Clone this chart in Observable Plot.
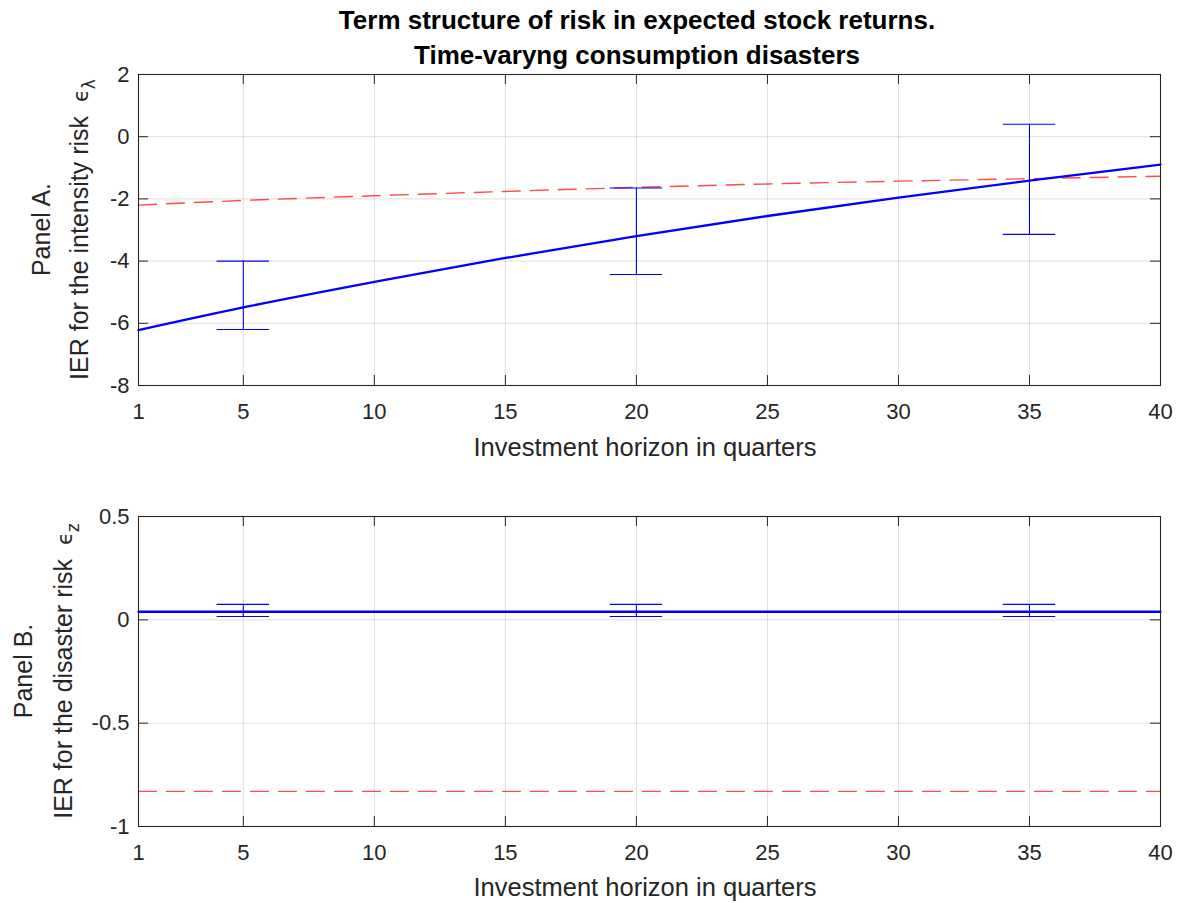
<!DOCTYPE html>
<html><head><meta charset="utf-8">
<script src="https://cdn.jsdelivr.net/npm/d3@7"></script>
<script src="https://cdn.jsdelivr.net/npm/@observablehq/plot@0.6"></script>
<style>
body{margin:0;background:#fff;}
#wrap{position:relative;width:1181px;height:903px;background:#fff;}
#wrap svg{position:absolute;left:0;}
</style>
</head><body><div id="wrap"></div>
<script>
// ---- data ----
const horizon = [1, 5, 10, 15, 20, 25, 30, 35, 40];
const intensityModel = [-6.22, -5.49, -4.67, -3.90, -3.20, -2.55, -1.96, -1.41, -0.90];
const intensityRef = [-2.20, -2.05, -1.90, -1.76, -1.63, -1.52, -1.43, -1.35, -1.27];
const barHorizon = [5, 20, 35];
const intensityLow = [-6.20, -4.43, -3.14];
const intensityHigh = [-4.00, -1.65, 0.40];
const disasterModel = [0.039, 0.039, 0.039, 0.039, 0.039, 0.039, 0.039, 0.039, 0.039];
const disasterRef = [-0.83, -0.83, -0.83, -0.83, -0.83, -0.83, -0.83, -0.83, -0.83];
const disasterLow = [0.016, 0.016, 0.016];
const disasterHigh = [0.075, 0.075, 0.075];
const xTicks = [1, 5, 10, 15, 20, 25, 30, 35, 40];
const yTicksA = [-8, -6, -4, -2, 0, 2];
const yTicksB = [-1, -0.5, 0, 0.5];
const titleLines = ["Term structure of risk in expected stock returns.", "Time-varyng consumption disasters"];
const xLabel = "Investment horizon in quarters";

const FONT = "'Liberation Sans', Arial, Helvetica, sans-serif";
const INK = "#262626";
const W = 1181, ML = 138, MR = 21;

function panel({height, marginTop, marginBottom, yDomain, yTicks, model, ref, low, high}) {
  const ph = height - marginTop - marginBottom;
  const pw = W - ML - MR;
  const lineData = horizon.map((x, i) => ({x, m: model[i], r: ref[i]}));
  const barData = barHorizon.map((x, i) => ({x, lo: low[i], hi: high[i]}));
  const svg = Plot.plot({
    width: W, height, marginLeft: ML, marginRight: MR, marginTop, marginBottom,
    x: {domain: [1, 40], label: null},
    y: {domain: yDomain, label: null},
    style: {fontFamily: FONT, fontSize: "22px", color: INK, background: "#fff", overflow: "visible"},
    marks: [
      Plot.gridX(xTicks, {stroke: "#000", strokeOpacity: 0.13}),
      Plot.gridY(yTicks, {stroke: "#000", strokeOpacity: 0.13}),
      Plot.line(lineData, {x: "x", y: "r", stroke: "#ff2a2a", strokeWidth: 1.4, strokeOpacity: 0.85, strokeDasharray: "18,10", curve: "monotone-x"}),
      Plot.line(lineData, {x: "x", y: "m", stroke: "#0000ff", strokeWidth: 2.3, curve: "monotone-x"}),
      Plot.ruleX(barData, {x: "x", y1: "lo", y2: "hi", stroke: "#0000ff", strokeWidth: 1.1}),
      Plot.ruleY(barData, {y: "lo", x1: d => d.x - 1, x2: d => d.x + 1, stroke: "#0000ff", strokeWidth: 1.1}),
      Plot.ruleY(barData, {y: "hi", x1: d => d.x - 1, x2: d => d.x + 1, stroke: "#0000ff", strokeWidth: 1.1}),
      Plot.tickX(xTicks, {x: d => d, insetTop: ph - 10, stroke: INK}),
      Plot.tickX(xTicks, {x: d => d, insetBottom: ph - 10, stroke: INK}),
      Plot.tickY(yTicks, {y: d => d, insetRight: pw - 10, stroke: INK}),
      Plot.tickY(yTicks, {y: d => d, insetLeft: pw - 10, stroke: INK}),
      Plot.axisX(xTicks, {tickSize: 0, tickPadding: 18, fontSize: 22, tickFormat: d => String(d), label: null}),
      Plot.axisY(yTicks, {tickSize: 0, tickPadding: 9, fontSize: 22, tickFormat: d => String(d), label: null}),
      Plot.frame({stroke: INK, strokeWidth: 1.1})
    ]
  });
  d3.select(svg).selectAll('g[aria-label$="tick label"]').attr("font-size", 22).style("font-size", "22px");
  return svg;
}

function addYLabel(svg, cy, x1, x2, line1, line2, sub) {
  const g = d3.select(svg).append("g").attr("font-family", FONT).attr("fill", INK).style("font-size", "25px");
  g.append("text").attr("transform", `translate(${x1},${cy}) rotate(-90)`).attr("text-anchor", "middle").text(line1);
  const t = g.append("text").attr("transform", `translate(${x2},${cy}) rotate(-90)`).attr("text-anchor", "middle");
  t.append("tspan").text(line2 + "\u00a0\u00a0");
  t.append("tspan").attr("font-family", "DejaVu Sans, sans-serif").style("font-size", "21px").text("\u03f5");
  t.append("tspan").attr("font-family", "DejaVu Sans, sans-serif").style("font-size", "17px").attr("dy", 7).text(sub);
}

function addXLabel(svg, y) {
  d3.select(svg).append("text").attr("x", 645).attr("y", y).attr("text-anchor", "middle")
    .attr("font-family", FONT).style("font-size", "25.5px").attr("fill", INK).text(xLabel);
}

const wrap = document.getElementById("wrap");

const a = panel({height: 470, marginTop: 74, marginBottom: 85, yDomain: [-8, 2], yTicks: yTicksA,
  model: intensityModel, ref: intensityRef, low: intensityLow, high: intensityHigh});
a.style.top = "0px";
wrap.appendChild(a);
addYLabel(a, 229.5, 50, 88, "Panel A.", "IER for the intensity risk", "\u03bb");
addXLabel(a, 456);
const tg = d3.select(a).append("g").attr("font-family", FONT).attr("font-weight", "bold").style("font-size", "26px").attr("fill", "#000").attr("text-anchor", "middle");
titleLines.forEach((s, i) => tg.append("text").attr("x", 637).attr("y", 20 + i * 35).attr("dominant-baseline", "central").text(s));

const b = panel({height: 433, marginTop: 46, marginBottom: 77, yDomain: [-1, 0.5], yTicks: yTicksB,
  model: disasterModel, ref: disasterRef, low: disasterLow, high: disasterHigh});
b.style.top = "470px";
wrap.appendChild(b);
addYLabel(b, 201, 32, 72, "Panel B.", "IER for the disaster risk", "z");
addXLabel(b, 426);
</script>
</body></html>
